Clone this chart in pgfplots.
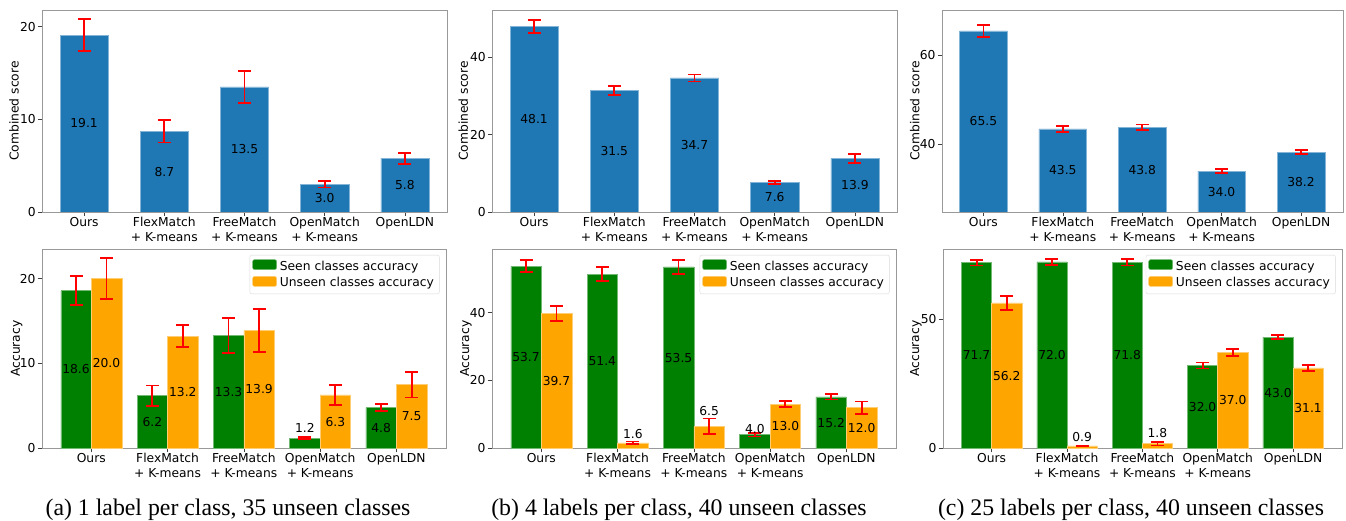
\documentclass[border=0pt]{standalone}
\usepackage{fontspec}
\setmainfont{DejaVu Sans}
\newfontfamily\capfont{Liberation Serif}
\usepackage{pgfplots}
\pgfplotsset{compat=1.18}
\usepackage{pgfplotstable}
\definecolor{tabblue}{HTML}{1F77B4}
\definecolor{mgreen}{HTML}{008000}
\definecolor{morange}{HTML}{FFA500}
\newcommand\fs{\fontsize{12.3}{14.6}\selectfont}
\newcommand\cfs{\capfont\fontsize{23.8}{28}\selectfont}

% top row: x value error label-y
\pgfplotstableread{
x v e ly
0 19.1 1.7 9.55
1 8.7 1.2 4.35
2 13.5 1.75 6.75
3 3.0 0.35 1.5
4 5.8 0.6 2.9
}\topa
\pgfplotstableread{
x v e ly
0 48.1 1.7 24.05
1 31.5 1.2 15.75
2 34.7 0.9 17.35
3 7.6 0.45 3.8
4 13.9 1.15 6.95
}\topb
\pgfplotstableread{
x v e ly
0 65.5 1.3 45.15
1 43.5 0.65 34.15
2 43.8 0.65 34.3
3 34.0 0.5 29.4
4 38.2 0.45 31.5
}\topc
% bottom row: seen, seen err, seen label-y, unseen, unseen err, unseen label-y
\pgfplotstableread{
x s se sly u ue uly
0 18.6 1.75 9.3 20.0 2.4 10.0
1 6.2 1.2 3.1 13.2 1.3 6.6
2 13.3 2.1 6.65 13.9 2.55 6.95
3 1.2 0.15 2.36 6.3 1.2 3.15
4 4.8 0.38 2.4 7.5 1.5 3.75
}\bota
\pgfplotstableread{
x s se sly u ue uly
0 53.7 1.8 26.85 39.7 2.2 19.85
1 51.4 2.0 25.7 1.6 0.4 4.13
2 53.5 2.0 26.75 6.5 2.3 11.1
3 4.0 0.5 5.6 13.0 0.9 6.5
4 15.2 0.8 7.6 12.0 1.8 6.0
}\botb
\pgfplotstableread{
x s se sly u ue uly
0 71.7 1.1 35.85 56.2 2.7 28.1
1 72.0 1.1 36.0 0.9 0.1 4.25
2 71.8 1.2 35.9 1.8 0.7 5.8
3 32.0 1.15 16.0 37.0 1.4 18.5
4 43.0 0.7 21.5 31.1 1.15 15.55
}\botc

\pgfplotsset{
  common/.style={scale only axis, anchor=south west,
    xtick={0,1,2,3,4},
    xticklabels={Ours,{FlexMatch\\+ K-means},{FreeMatch\\+ K-means},{OpenMatch\\+ K-means},OpenLDN},
    xticklabel style={align=center, font=\fs, inner sep=1pt},
    yticklabel style={font=\fs, inner sep=2pt},
    axis line style={black!40},
    tick align=outside, xtick pos=left, ytick pos=left,
    major tick length=4pt, tick style={black!75, line width=0.6pt},
    /pgf/number format/assume math mode=true},
  ylab/.style={every axis y label/.style={at={(axis description cs:#1,0.5)}, rotate=90, anchor=center, font=\fs}},
  bar/.style={ybar, bar shift=0pt, line width=0.5pt,
    /pgfplots/error bars/error bar style={red, line width=1.8pt},
    /pgfplots/error bars/error mark options={red, rotate=90, line width=1.8pt, mark size=6.5pt}},
  legimg/.style={legend image code/.code={\draw[##1] (0pt,-3.5pt) rectangle (24pt,6.5pt);}},
  lbl/.style={draw=none, mark=none, forget plot, nodes near coords, point meta=explicit symbolic,
    every node near coord/.style={font=\fs, anchor=center, inner sep=0pt, text=black}},
  leg/.style={legend style={at={(rel axis cs:0.984,0.97)}, anchor=north east, draw=black!15,
    rounded corners=2pt, font=\fs, legend cell align=left, inner sep=2.5pt,
    nodes={inner sep=3pt}}},
}

\begin{document}
\begin{tikzpicture}
\useasboundingbox (0,0) rectangle (1346pt,521pt);

% ---------- top row ----------
\begin{axis}[common, at={(42pt,309pt)}, width=405pt, height=202pt,
  xmin=-0.525, xmax=4.525, ymin=0, ymax=21.8, ytick={0,10,20},
  ylab=-0.069, ylabel={Combined score}]
\addplot[bar, fill=tabblue, draw=tabblue!55!white, bar width=0.6,
  error bars/.cd, y dir=both, y explicit] table[x=x, y=v, y error=e]{\topa};
\addplot[lbl] table[x=x, y=ly, meta=v]{\topa};
\end{axis}

\begin{axis}[common, at={(492pt,309pt)}, width=405pt, height=202pt,
  xmin=-0.525, xmax=4.525, ymin=0, ymax=52.3, ytick={0,20,40},
  ylab=-0.071, ylabel={Combined score}]
\addplot[bar, fill=tabblue, draw=tabblue!55!white, bar width=0.6,
  error bars/.cd, y dir=both, y explicit] table[x=x, y=v, y error=e]{\topb};
\addplot[lbl] table[x=x, y=ly, meta=v]{\topb};
\end{axis}

\begin{axis}[common, at={(941.7pt,309pt)}, width=401pt, height=202pt,
  xmin=-0.525, xmax=4.525, ymin=24.8, ymax=70.2, ytick={40,60},
  ylab=-0.067, ylabel={Combined score}]
\addplot[bar, fill=tabblue, draw=tabblue!55!white, bar width=0.6,
  error bars/.cd, y dir=both, y explicit] table[x=x, y=v, y error=e]{\topc};
\addplot[lbl] table[x=x, y=ly, meta=v]{\topc};
\end{axis}

% ---------- bottom row ----------
\begin{axis}[common, leg, at={(41.7pt,72.7pt)}, width=404.3pt, height=199.3pt,
  xmin=-0.65, xmax=4.65, ymin=0, ymax=23.5, ytick={0,10,20},
  ylab=-0.062, ylabel={Accuracy}]
\addplot[bar, fill=mgreen, draw=mgreen!55!white, bar width=0.4, legimg,
  error bars/.cd, y dir=both, y explicit] table[x expr=\thisrow{x}-0.2, y=s, y error=se]{\bota};
\addlegendentry{Seen classes accuracy}
\addplot[bar, fill=morange, draw=morange!55!white, bar width=0.4, legimg,
  error bars/.cd, y dir=both, y explicit] table[x expr=\thisrow{x}+0.2, y=u, y error=ue]{\bota};
\addlegendentry{Unseen classes accuracy}
\addplot[lbl] table[x expr=\thisrow{x}-0.2, y=sly, meta=s]{\bota};
\addplot[lbl] table[x expr=\thisrow{x}+0.2, y=uly, meta=u]{\bota};
\end{axis}

\begin{axis}[common, leg, at={(491.7pt,72.7pt)}, width=404.3pt, height=199.3pt,
  xmin=-0.65, xmax=4.65, ymin=0, ymax=58.8, ytick={0,20,40},
  ylab=-0.064, ylabel={Accuracy}]
\addplot[bar, fill=mgreen, draw=mgreen!55!white, bar width=0.4, legimg,
  error bars/.cd, y dir=both, y explicit] table[x expr=\thisrow{x}-0.2, y=s, y error=se]{\botb};
\addlegendentry{Seen classes accuracy}
\addplot[bar, fill=morange, draw=morange!55!white, bar width=0.4, legimg,
  error bars/.cd, y dir=both, y explicit] table[x expr=\thisrow{x}+0.2, y=u, y error=ue]{\botb};
\addlegendentry{Unseen classes accuracy}
\addplot[lbl] table[x expr=\thisrow{x}-0.2, y=sly, meta=s]{\botb};
\addplot[lbl] table[x expr=\thisrow{x}+0.2, y=uly, meta=u]{\botb};
\end{axis}

\begin{axis}[common, leg, at={(942.7pt,72.7pt)}, width=399.3pt, height=199.3pt,
  xmin=-0.65, xmax=4.65, ymin=0, ymax=77.0, ytick={0,50},
  ylab=-0.067, ylabel={Accuracy}]
\addplot[bar, fill=mgreen, draw=mgreen!55!white, bar width=0.4, legimg,
  error bars/.cd, y dir=both, y explicit] table[x expr=\thisrow{x}-0.2, y=s, y error=se]{\botc};
\addlegendentry{Seen classes accuracy}
\addplot[bar, fill=morange, draw=morange!55!white, bar width=0.4, legimg,
  error bars/.cd, y dir=both, y explicit] table[x expr=\thisrow{x}+0.2, y=u, y error=ue]{\botc};
\addlegendentry{Unseen classes accuracy}
\addplot[lbl] table[x expr=\thisrow{x}-0.2, y=sly, meta=s]{\botc};
\addplot[lbl] table[x expr=\thisrow{x}+0.2, y=uly, meta=u]{\botc};
\end{axis}

% ---------- captions ----------
\node[anchor=base] at (228pt,5pt) {\cfs (a) 1 label per class, 35 unseen classes};
\node[anchor=base] at (679pt,5pt) {\cfs (b) 4 labels per class, 40 unseen classes};
\node[anchor=base] at (1131pt,5pt) {\cfs (c) 25 labels per class, 40 unseen classes};
\end{tikzpicture}
\end{document}
